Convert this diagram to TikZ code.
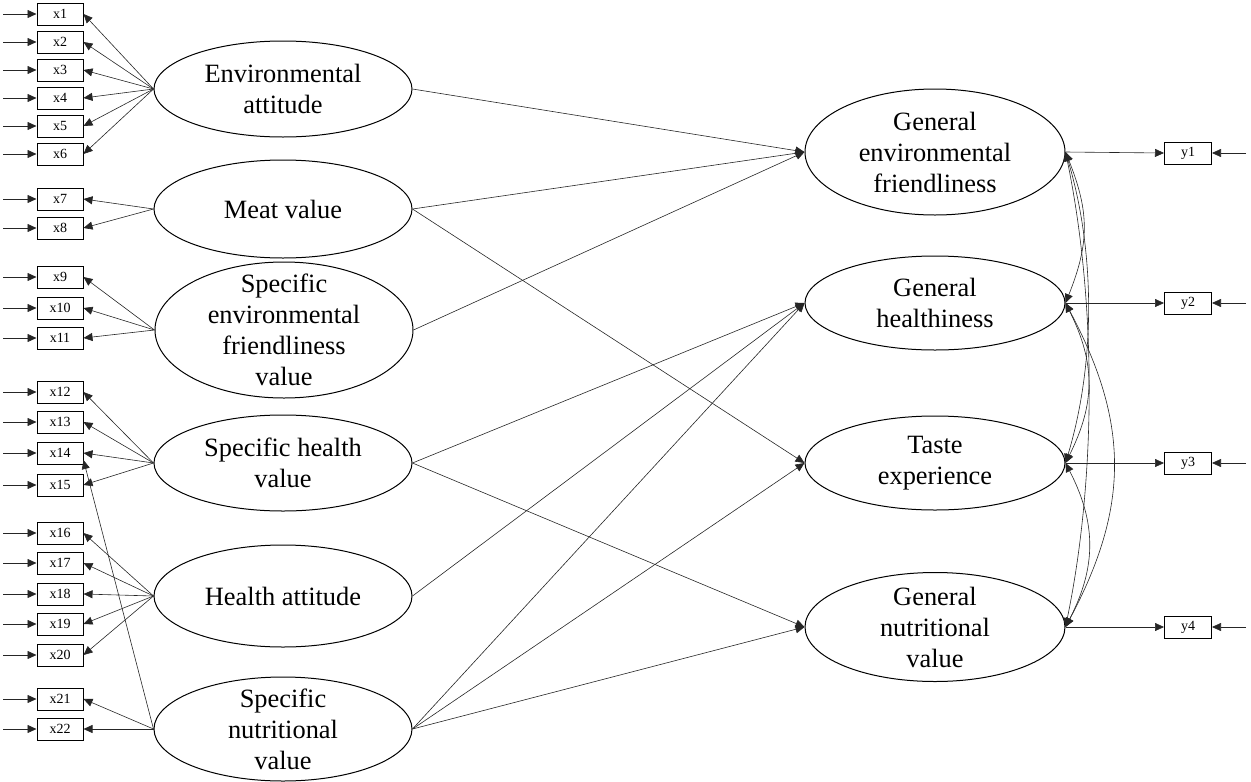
\documentclass[tikz,border=0pt]{standalone}
\usepackage{fontspec}
\setmainfont{Liberation Serif}
\usetikzlibrary{shapes.geometric, arrows.meta}

\tikzset{
  obs/.style={draw, line width=1pt, minimum width=46pt, minimum height=22pt,
    inner sep=0pt, font=\fontsize{14}{16}\selectfont},
  lat/.style={draw, ellipse, line width=1pt, minimum width=258pt,
    minimum height=#1, inner sep=0pt},
  lbl/.style={align=center, inner sep=0pt, font=\fontsize{26.4}{31}\selectfont},
  tip/.tip={Triangle[length=9pt,width=8pt]},
  reg/.style={line width=0.6pt, draw=black!85, -tip},
  cov/.style={line width=0.6pt, draw=black!85, tip-tip},
}

\begin{document}
\begin{tikzpicture}[x=1pt, y=-1pt]
\useasboundingbox (0,0) rectangle (1251,782);

% exogenous latent factors
\node[lat=96pt,  label={[lbl]center:Environmental\\attitude}] (ea) at (283,89) {};
\node[lat=98pt,  label={[lbl]center:Meat value}] (mv) at (283,209) {};
\node[lat=136pt, label={[lbl]center:Specific\\environmental\\friendliness\\value}] (sefv) at (284,330) {};
\node[lat=96pt,  label={[lbl]center:Specific health\\value}] (shv) at (283,463) {};
\node[lat=102pt, label={[lbl]center:Health attitude}] (ha) at (283,596) {};
\node[lat=104pt, label={[lbl]center:Specific\\nutritional\\value}] (snv) at (283,729) {};

% endogenous latent factors
\node[lat=126pt, minimum width=260pt, label={[lbl]center:General\\environmental\\friendliness}] (gef) at (935,152) {};
\node[lat=94pt,  minimum width=260pt, label={[lbl]center:General\\healthiness}] (gh) at (935,303) {};
\node[lat=94pt,  minimum width=260pt, label={[lbl]center:Taste\\experience}] (te) at (935,463) {};
\node[lat=109pt, minimum width=260pt, label={[lbl]center:General\\nutritional\\value}] (gnv) at (935,627) {};

% indicators x1--x22 with their error terms
\foreach \i/\y in {1/14, 2/42, 3/70, 4/98, 5/126, 6/154, 7/199, 8/228,
                   9/277, 10/308, 11/338, 12/392, 13/422, 14/453, 15/485,
                   16/533, 17/563, 18/594, 19/624, 20/655, 21/699, 22/729} {
  \node[obs] (x\i) at (60,\y) {x\i};
  \coordinate (ex\i) at (3,\y);
  \draw[reg] (ex\i) -- (x\i);
}

% indicators y1--y4 with their error terms
\foreach \i/\y in {1/153, 2/303, 3/463, 4/627} {
  \node[obs, minimum width=47pt] (y\i) at (1188,\y) {y\i};
  \coordinate (ey\i) at (1246,\y);
  \draw[reg] (ey\i) -- (y\i);
}

% measurement model
\foreach \i in {1,...,6}   \draw[reg] (ea.west) -- (x\i.east);
\foreach \i in {7,8}       \draw[reg] (mv.west) -- (x\i.east);
\foreach \i in {9,10,11}   \draw[reg] (sefv.west) -- (x\i.east);
\foreach \i in {12,...,15} \draw[reg] (shv.west) -- (x\i.east);
\foreach \i in {16,...,20} \draw[reg] (ha.west) -- (x\i.east);
\foreach \i in {21,22}     \draw[reg] (snv.west) -- (x\i.east);
\draw[reg] (snv.west) -- ([yshift=-7pt]x14.east);

\draw[reg] (gef.east) -- (y1.west);
\draw[reg] (gh.east)  -- (y2.west);
\draw[reg] (te.east)  -- (y3.west);
\draw[reg] (gnv.east) -- (y4.west);

% structural paths
\draw[reg] (ea.east)   -- (gef.west);
\draw[reg] (mv.east)   -- (gef.west);
\draw[reg] (mv.east)   -- (te.west);
\draw[reg] (sefv.east) -- (gef.west);
\draw[reg] (shv.east)  -- (gh.west);
\draw[reg] (shv.east)  -- (gnv.west);
\draw[reg] (ha.east)   -- (gh.west);
\draw[reg] (snv.east)  -- (gh.west);
\draw[reg] (snv.east)  -- (te.west);
\draw[reg] (snv.east)  -- (gnv.west);

% residual covariances
\draw[cov] (gef.east) .. controls +(24,60)  and +(24,-60)  .. (gh.east);
\draw[cov] (gef.east) .. controls +(30,100) and +(30,-100) .. (te.east);
\draw[cov] (gef.east) .. controls +(31,150) and +(31,-150) .. (gnv.east);
\draw[cov] (gh.east)  .. controls +(30,60)  and +(30,-60)  .. (te.east);
\draw[cov] (gh.east)  .. controls +(64,120) and +(64,-120) .. (gnv.east);
\draw[cov] (te.east)  .. controls +(31,60)  and +(31,-60)  .. (gnv.east);
\end{tikzpicture}
\end{document}
